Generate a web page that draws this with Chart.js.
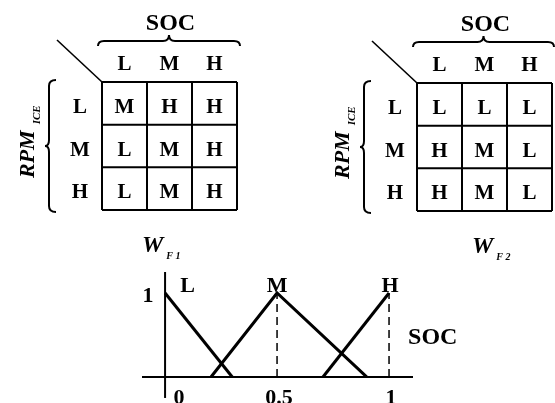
<!DOCTYPE html>
<html><head><meta charset="utf-8">
<script src="https://cdn.jsdelivr.net/npm/chart.js@4.4.1/dist/chart.umd.min.js"></script>
<style>
html,body{margin:0;padding:0;background:#fff;}
#wrap{position:relative;width:555px;height:403px;overflow:hidden;background:#fff;}
canvas{position:absolute;left:0;top:0;}
</style></head><body>
<div id="wrap">
<canvas id="t1" width="555" height="403"></canvas>
<canvas id="t2" width="555" height="403"></canvas>
<canvas id="mf" width="555" height="403"></canvas>
</div>
<script>
// ---- data ----
const socLevels = ['L', 'M', 'H'];
const rpmLevels = ['L', 'M', 'H'];
const wf1Rules = [['M', 'H', 'H'], ['L', 'M', 'H'], ['L', 'M', 'H']];
const wf2Rules = [['L', 'L', 'L'], ['H', 'M', 'L'], ['H', 'M', 'L']];
const mfLowX = [0, 0.3];          const mfLowY = [1, 0];
const mfMedX = [0.205, 0.5, 0.9]; const mfMedY = [0, 1, 0];
const mfHighX = [0.705, 1];       const mfHighY = [0, 1];
const socTicks = [0, 0.5, 1];
const wTicks = [1];
const mfNames = ['L', 'M', 'H'];

const SERIF = '"Liberation Serif","Times New Roman",serif';
const W = 555, H = 403;

function line(ctx, x1, y1, x2, y2) { ctx.beginPath(); ctx.moveTo(x1, y1); ctx.lineTo(x2, y2); ctx.stroke(); }

function hBrace(ctx, x1, x2, yEnd, yFlat, yTip) {
  const xc = (x1 + x2) / 2, r = 6;
  ctx.beginPath();
  ctx.moveTo(x1, yEnd);
  ctx.quadraticCurveTo(x1, yFlat, x1 + r, yFlat);
  ctx.lineTo(xc - r, yFlat);
  ctx.quadraticCurveTo(xc, yFlat, xc, yTip);
  ctx.quadraticCurveTo(xc, yFlat, xc + r, yFlat);
  ctx.lineTo(x2 - r, yFlat);
  ctx.quadraticCurveTo(x2, yFlat, x2, yEnd);
  ctx.stroke();
}
function vBrace(ctx, y1, y2, xEnd, xFlat, xTip) {
  const yc = (y1 + y2) / 2, r = 6;
  ctx.beginPath();
  ctx.moveTo(xEnd, y1);
  ctx.quadraticCurveTo(xFlat, y1, xFlat, y1 + r);
  ctx.lineTo(xFlat, yc - r);
  ctx.quadraticCurveTo(xFlat, yc, xTip, yc);
  ctx.quadraticCurveTo(xFlat, yc, xFlat, yc + r);
  ctx.lineTo(xFlat, y2 - r);
  ctx.quadraticCurveTo(xFlat, y2, xEnd, y2);
  ctx.stroke();
}

function ruleTable(canvasId, rules, area, outName, outSub, outDx) {
  const points = [];
  rules.forEach((row, r) => row.forEach((v, c) => points.push({ x: socLevels[c], y: rpmLevels[r], rule: v })));
  return new Chart(document.getElementById(canvasId), {
    type: 'scatter',
    data: { datasets: [{ data: points, pointRadius: 0, showLine: false }] },
    options: {
      responsive: false, animation: false, devicePixelRatio: 1,
      layout: { padding: { left: area.left, top: area.top, right: W - area.right, bottom: H - area.bottom } },
      plugins: { legend: { display: false }, tooltip: { enabled: false } },
      scales: {
        x: { type: 'category', labels: socLevels, offset: true, display: false },
        y: { type: 'category', labels: rpmLevels, offset: true, display: false }
      }
    },
    plugins: [{
      id: 'ruleTable',
      afterDatasetsDraw(chart) {
        const { ctx, chartArea: a, scales: { x, y } } = chart;
        ctx.save();
        ctx.strokeStyle = '#000'; ctx.fillStyle = '#000';
        ctx.lineWidth = 2;
        for (let i = 0; i <= socLevels.length; i++) { const px = x.getPixelForValue(i - 0.5); line(ctx, px, a.top, px, a.bottom); }
        for (let i = 0; i <= rpmLevels.length; i++) { const py = y.getPixelForValue(i - 0.5); line(ctx, a.left, py, a.right, py); }
        // cell texts
        ctx.font = 'bold 21px ' + SERIF;
        ctx.textAlign = 'center'; ctx.textBaseline = 'alphabetic';
        chart.getDatasetMeta(0).data.forEach((pt, i) => ctx.fillText(points[i].rule, pt.x, pt.y + 9.5));
        // column labels
        socLevels.forEach((s, i) => ctx.fillText(s, x.getPixelForValue(i), a.top - 12));
        // row labels
        rpmLevels.forEach((s, i) => ctx.fillText(s, a.left - 22, y.getPixelForValue(i) + 9.5));
        // header
        ctx.font = 'bold 24px ' + SERIF;
        ctx.fillText('SOC', (a.left + a.right) / 2 + 1, a.top - 52);
        // braces and diagonal
        ctx.lineWidth = 2;
        hBrace(ctx, a.left - 4, Math.min(a.right + 3, W - 1), a.top - 36, a.top - 41, a.top - 47);
        vBrace(ctx, a.top - 2, a.bottom + 2, a.left - 46, a.left - 53, a.left - 57);
        ctx.lineWidth = 1.6;
        line(ctx, a.left - 45, a.top - 42, a.left, a.top);
        // RPM_ICE rotated
        ctx.save();
        ctx.translate(a.left - 68, (a.top + a.bottom) / 2 + 32);
        ctx.rotate(-Math.PI / 2);
        ctx.textAlign = 'left';
        ctx.font = 'italic bold 22px ' + SERIF;
        ctx.fillText('RPM', 0, 0);
        const wr = ctx.measureText('RPM').width;
        ctx.font = 'italic bold 11px ' + SERIF;
        ctx.fillText('ICE', wr + 6, 6);
        ctx.restore();
        // output label
        ctx.textAlign = 'left';
        ctx.font = 'italic bold 24px ' + SERIF;
        ctx.fillText(outName, a.left + outDx, a.bottom + 42);
        const ww = ctx.measureText(outName).width;
        ctx.font = 'italic bold 10px ' + SERIF;
        ctx.fillText(outSub, a.left + outDx + ww + 3, a.bottom + 49);
        ctx.restore();
      }
    }]
  });
}

ruleTable('t1', wf1Rules, { left: 102, top: 82, right: 237, bottom: 210 }, 'W', 'F 1', 40);
ruleTable('t2', wf2Rules, { left: 417, top: 83, right: 552, bottom: 211 }, 'W', 'F 2', 55);

// ---- membership functions ----
const toPts = (xs, ys) => xs.map((v, i) => ({ x: v, y: ys[i] }));
const solid = { showLine: true, borderColor: '#000', borderWidth: 3, pointRadius: 0, tension: 0 };
const dashed = { showLine: true, borderColor: '#000', borderWidth: 1.5, pointRadius: 0, borderDash: [8, 5] };
const medPeak = mfMedY.indexOf(Math.max(...mfMedY));
const highPeak = mfHighY.indexOf(Math.max(...mfHighY));

new Chart(document.getElementById('mf'), {
  type: 'scatter',
  data: {
    datasets: [
      Object.assign({ data: toPts(mfLowX, mfLowY) }, solid),
      Object.assign({ data: toPts(mfMedX, mfMedY) }, solid),
      Object.assign({ data: toPts(mfHighX, mfHighY) }, solid),
      Object.assign({ data: [{ x: mfMedX[medPeak], y: 0 }, { x: mfMedX[medPeak], y: mfMedY[medPeak] }] }, dashed),
      Object.assign({ data: [{ x: mfHighX[highPeak], y: 0 }, { x: mfHighX[highPeak], y: mfHighY[highPeak] }] }, dashed)
    ]
  },
  options: {
    responsive: false, animation: false, devicePixelRatio: 1,
    layout: { padding: { left: 142, right: W - 413, top: 272, bottom: 0 } },
    plugins: { legend: { display: false }, tooltip: { enabled: false } },
    scales: {
      x: { type: 'linear', min: -0.103, max: 1.107, display: false },
      y: { type: 'linear', min: -0.31, max: 1.25, display: false }
    }
  },
  plugins: [{
    id: 'mfAxes',
    beforeDatasetsDraw(chart) {
      const { ctx, chartArea: a, scales: { x, y } } = chart;
      ctx.save();
      ctx.strokeStyle = '#000'; ctx.lineWidth = 2;
      const y0 = y.getPixelForValue(0), x0 = x.getPixelForValue(0);
      line(ctx, a.left, y0, a.right, y0);
      line(ctx, x0, a.top, x0, y.getPixelForValue(-0.25));
      ctx.restore();
    },
    afterDatasetsDraw(chart) {
      const { ctx, chartArea: a, scales: { x, y } } = chart;
      ctx.save();
      ctx.fillStyle = '#000';
      ctx.font = 'bold 22px ' + SERIF;
      ctx.textBaseline = 'alphabetic'; ctx.textAlign = 'center';
      const y0 = y.getPixelForValue(0), x0 = x.getPixelForValue(0);
      // y tick
      wTicks.forEach(v => ctx.fillText(String(v), x0 - 17, y.getPixelForValue(v) + 9));
      // x ticks
      socTicks.forEach(v => ctx.fillText(String(v), x.getPixelForValue(v) + (v === 0 ? 14 : 2), y0 + 27));
      // membership names above peaks
      const peaks = [mfLowX[0] + 0.1, mfMedX[medPeak], mfHighX[highPeak]];
      mfNames.forEach((n, i) => ctx.fillText(n, x.getPixelForValue(peaks[i]) + (i === 2 ? 1 : 0), y.getPixelForValue(1) - 1));
      // axis title
      ctx.textAlign = 'left';
      ctx.font = 'bold 24px ' + SERIF;
      ctx.fillText('SOC', x.getPixelForValue(1) + 19, y0 - 33);
      ctx.restore();
    }
  }]
});
</script>
</body></html>
